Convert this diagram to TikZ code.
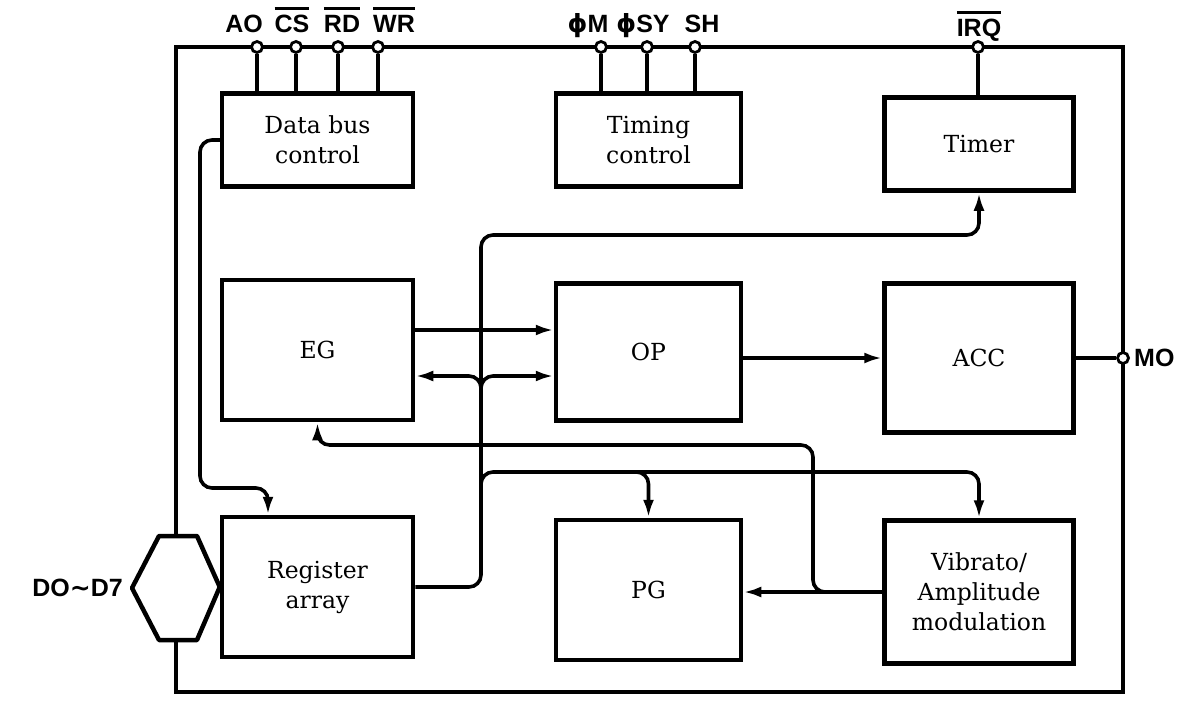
\documentclass[tikz,border=0pt]{standalone}
\usepackage{fontspec}
\setmainfont{DejaVu Serif}
\setsansfont{Liberation Sans}
\newfontfamily\symfont{DejaVu Sans}
\usetikzlibrary{arrows.meta}
\newcommand{\negsig}[1]{\vbox{\hrule height 2.5pt\kern 6pt\hbox{#1}}}

\begin{document}
\begin{tikzpicture}[x=1pt,y=-1pt]
\tikzstyle{block}=[draw, line width=4.5pt, align=center, font=\fontsize{23.5}{30}\selectfont]
\tikzstyle{pin}=[circle, draw, fill=white, line width=2.8pt, minimum size=11pt, inner sep=0pt]
\tikzstyle{pinlabel}=[anchor=base, inner sep=0pt, font=\fontsize{25}{28}\selectfont\sffamily\bfseries]
\tikzstyle{wire}=[line width=3.6pt]
\tikzstyle{arr}=[wire, -{Latex[length=18pt,width=11pt]}]

\useasboundingbox (0,0) rectangle (1182,706);

% blocks
\node[block, minimum width=191pt, minimum height=93pt] (dbc) at (317.5,140) {Data bus\\control};
\node[block, minimum width=185pt, minimum height=93pt] (timing) at (648.5,140) {Timing\\control};
\node[block, minimum width=189pt, minimum height=93pt] (timer) at (979,144) {Timer};
\node[block, minimum width=191pt, minimum height=140pt] (eg) at (317.5,350) {EG};
\node[block, minimum width=185pt, minimum height=137pt] (op) at (648.5,352) {OP};
\node[block, minimum width=189pt, minimum height=149pt] (acc) at (979,358) {ACC};
\node[block, minimum width=191pt, minimum height=140pt] (reg) at (317.5,587) {Register\\array};
\node[block, minimum width=185pt, minimum height=140pt] (pg) at (648.5,590) {PG};
\node[block, minimum width=189pt, minimum height=143pt] (vib) at (979,592) {Vibrato/\\Amplitude\\modulation};

% chip outline and data port
\coordinate (hexT) at (176,536);
\coordinate (hexB) at (176,640);
\draw[line width=4.5pt] (hexT) -- (176,47) -- (1123,47) -- (1123,692) -- (176,692) -- (hexB);
\draw[line width=4.5pt, line join=round] (132,588) -- (159,536) -- (197,536) -- (reg.west) -- (197,640) -- (159,640) -- cycle;
\node[anchor=east, inner sep=0pt, font=\fontsize{25}{28}\selectfont\sffamily\bfseries] (dlbl) at (123,588) {DO{\symfont\bfseries ∼}D7};

% pins
\foreach \n/\x in {a0/257, cs/296, rd/338, wr/378} {
\node[pin] (\n) at (\x,47) {};
\draw[wire] (\n) -- (\n |- dbc.north);
}
\foreach \n/\x in {phm/601, phsy/647, sh/695} {
\node[pin] (\n) at (\x,47) {};
\draw[wire] (\n) -- (\n |- timing.north);
}
\node[pin] (irq) at (978,47) {};
\draw[wire] (irq) -- (irq |- timer.north);
\node[pin] (mo) at (1123,358) {};
\draw[wire] (acc.east) -- (mo);

\node[pinlabel] at (244,33) {AO};
\node[pinlabel] at (292,33) {\negsig{CS}};
\node[pinlabel] at (342,33) {\negsig{RD}};
\node[pinlabel] at (394,33) {\negsig{WR}};
\node[pinlabel] at (588,33) {{\symfont\bfseries ϕ}M};
\node[pinlabel] at (643,33) {{\symfont\bfseries ϕ}SY};
\node[pinlabel] at (702,33) {SH};
\node[pinlabel] at (979,37) {\negsig{IRQ}};
\node[anchor=west, inner sep=0pt, font=\fontsize{25}{28}\selectfont\sffamily\bfseries] at (1134,358) {MO};

% internal bus
\coordinate (busB) at (481,587);
\coordinate (busT) at (481,235);
\coordinate (busY) at (481,392);
\coordinate (busL) at (481,490);
\coordinate (egop) at (0,330);
\coordinate (yrow) at (0,376);
\coordinate (lowrow) at (0,472);
\coordinate (lowmid) at (560,472);
\draw[arr, rounded corners=12pt] (reg.east) -- (busB) -- (busT) -- (timer.south |- busT) -- (timer.south);
\draw[arr] (eg.east |- egop) -- (op.west |- egop);
\draw[arr, rounded corners=12pt] (busY) -- (busY |- yrow) -- (eg.east |- yrow);
\draw[arr, rounded corners=12pt] (busY) -- (busY |- yrow) -- (op.west |- yrow);
\draw[arr] (op.east |- acc.west) -- (acc.west);
\draw[arr, rounded corners=12pt] (busL) -- (busL |- lowrow) -- (pg.north |- lowrow) -- (pg.north);
\draw[arr, rounded corners=12pt] (lowmid) -- (vib.north |- lowrow) -- (vib.north);

% modulation feedback
\coordinate (vtap) at (840,592);
\coordinate (vcol) at (813,0);
\coordinate (mrow) at (0,445);
\draw[arr] (vib.west) -- (pg.east |- vib.west);
\draw[arr, rounded corners=12pt] (vtap) -- (vcol |- vtap) -- (vcol |- mrow) -- (eg.south |- mrow) -- (eg.south);

% data bus control to registers
\coordinate (dcol) at (200,0);
\coordinate (drow) at (0,488);
\coordinate (regin) at (268,0);
\draw[arr, rounded corners=12pt] (dbc.west) -- (dcol |- dbc.west) -- (dcol |- drow) -- (regin |- drow) -- (regin |- reg.north);
\end{tikzpicture}
\end{document}
